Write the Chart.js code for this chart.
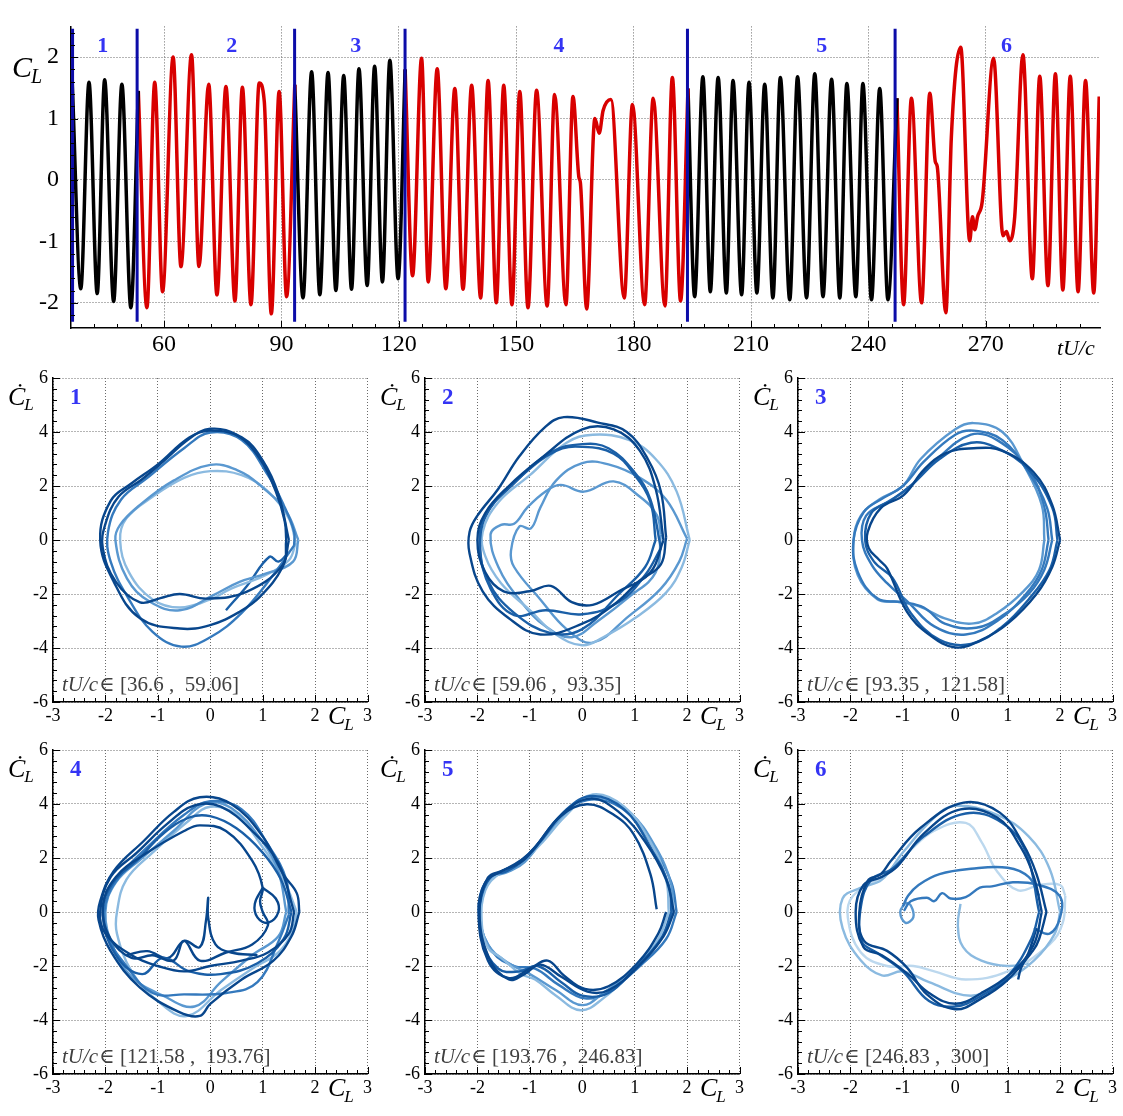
<!DOCTYPE html>
<html lang="en">
<head>
<meta charset="UTF-8">
<title>C_L time history and phase portraits</title>
<script src="https://cdn.jsdelivr.net/npm/chart.js@4/dist/chart.umd.min.js"></script>
<style>
body{margin:0;background:#fff;width:1123px;height:1116px;position:relative;overflow:hidden}
canvas{position:absolute}
</style>
</head>
<body>
<canvas id="top" width="1123" height="360" style="left:0;top:0"></canvas>
<canvas id="p1" width="375" height="384" style="left:0;top:358px"></canvas>
<canvas id="p2" width="375" height="384" style="left:372px;top:358px"></canvas>
<canvas id="p3" width="375" height="384" style="left:745px;top:358px"></canvas>
<canvas id="p4" width="375" height="384" style="left:0;top:730px"></canvas>
<canvas id="p5" width="375" height="384" style="left:372px;top:730px"></canvas>
<canvas id="p6" width="375" height="384" style="left:745px;top:730px"></canvas>
<script>
// ---- top panel: lift coefficient history (extremes) ----
const tu = [36.5, 38.7, 40.8, 42.9, 44.8, 47.1, 49.2, 51.5, 53.4, 55.6,
  57.6, 59.6, 62.3, 64.3, 67.0, 68.9, 71.4, 73.5, 75.8, 78.1,
  80.0, 82.2, 84.3, 85.6, 87.4, 89.4, 91.3, 93.4, 95.5, 97.7,
  99.8, 101.9, 103.9, 105.9, 107.9, 109.8, 111.9, 113.8, 115.8, 117.7,
  119.8, 121.6, 123.5, 125.8, 127.5, 129.8, 132.0, 134.3, 136.4, 138.6,
  140.9, 142.8, 144.9, 146.8, 148.9, 150.9, 153.0, 155.2, 157.9, 159.8,
  162.7, 164.5, 166.0, 166.4, 168.0, 170.1, 171.2, 172.2, 174.2, 177.6,
  179.7, 182.8, 185.0, 188.0, 189.9, 192.0, 193.9, 195.6, 197.7, 199.6,
  201.6, 203.7, 205.4, 207.6, 209.5, 211.5, 213.5, 215.6, 217.5, 219.9,
  221.9, 224.2, 226.3, 228.4, 230.6, 232.7, 234.5, 236.8, 238.6, 240.8,
  242.9, 245.0, 247.3, 249.0, 251.0, 253.6, 255.7, 257.1, 257.6, 259.8,
  261.2, 263.6, 265.9, 266.6, 267.2, 267.9, 269.1, 272.0, 274.4, 275.3,
  276.1, 277.4, 279.5, 281.9, 283.8, 285.9, 287.8, 289.7, 291.6, 293.6,
  295.5, 297.6, 299.0];
const cl = [1.62, -1.77, 1.59, -1.85, 1.63, -1.98, 1.56, -2.08, 1.45, -2.08,
  1.59, -1.82, 2.0, -1.41, 2.04, -1.41, 1.56, -1.87, 1.52, -1.97,
  1.51, -2.03, 1.58, 1.28, -2.18, 1.44, -1.90, 1.55, -1.92, 1.76,
  -1.87, 1.75, -1.80, 1.70, -1.78, 1.81, -1.72, 1.85, -1.66, 1.95,
  -1.61, 1.80, -1.56, 1.98, -1.66, 1.81, -1.77, 1.49, -1.78, 1.54,
  -1.92, 1.62, -2.0, 1.54, -2.03, 1.44, -2.08, 1.46, -2.05, 1.39,
  -2.03, 1.36, 0.05, -0.05, -2.10, 1.0, 0.76, 1.13, 1.31, -1.92,
  1.23, -2.03, 1.33, -2.05, 1.67, -1.97, 1.49, -1.90, 1.68, -1.82,
  1.67, -1.84, 1.62, -1.87, 1.59, -1.84, 1.56, -1.92, 1.67, -1.95,
  1.68, -1.92, 1.73, -1.90, 1.64, -1.92, 1.57, -1.90, 1.57, -1.95,
  1.49, -1.95, 1.33, -2.03, 1.33, -2.0, 1.41, 0.30, 0.22, -2.16,
  0.69, 2.16, -0.99, -0.6, -0.81, -0.6, -0.35, 1.98, -0.91, -0.84,
  -0.99, -0.6, 2.04, -1.61, 1.69, -1.72, 1.73, -1.79, 1.69, -1.82,
  1.62, -1.84, 1.36];
const tTicks = [60, 90, 120, 150, 180, 210, 240, 270];
const clTicks = [-2, -1, 0, 1, 2];
const lineT = [36.6, 53.1, 93.35, 121.58, 193.76, 246.83];
const winNames = ['1', '2', '3', '4', '5', '6'];
const winLabelT = [44.3, 77.3, 109.0, 160.9, 228.1, 275.3];
const winBounds = ['36.6', '59.06', '93.35', '121.58', '193.76', '246.83', '300'];

// ---- phase portraits: loops of [C_L, dC_L/dt] ----
const phX = [-3, -2, -1, 0, 1, 2, 3];
const phY = [-6, -4, -2, 0, 2, 4, 6];

const p1Loops = [
  [[1.45,0],[1.38,-0.93],[0.69,-1.92],[-0.07,-2.17],[-0.58,-2.0],[-0.95,-2.15],[-1.34,-2.31],[-1.8,-1.55],[-2.05,-0.3],[-2.0,0.6],[-1.75,1.6],[-1.3,2.25],[-0.9,2.9],[-0.4,3.75],[0,4.12],[0.5,3.9],[0.95,3.0],[1.25,1.8],[1.42,0.7],[1.45,0]],
  [[1.5,0],[1.38,-1.0],[0.95,-2.1],[0.56,-2.66],[0,-3.15],[-0.58,-3.28],[-1.34,-2.9],[-1.84,-1.55],[-2.1,0],[-1.9,1.45],[-1.5,2.1],[-1.0,2.8],[-0.4,3.8],[0,4.05],[0.6,3.8],[1.0,2.95],[1.3,1.7],[1.5,0]],
  [[1.6,-0.2],[1.2,-1.3],[0.6,-2.7],[0,-3.6],[-0.55,-3.95],[-1.1,-3.4],[-1.55,-2.2],[-1.9,-0.8],[-1.95,0.3],[-1.7,1.5],[-1.2,2.3],[-0.5,3.4],[0,3.98],[0.6,3.7],[1.1,2.4],[1.4,1.3],[1.6,0.3],[1.6,-0.2]],
  [[1.68,0],[1.58,-0.8],[1.07,-1.24],[0.56,-1.55],[0.06,-2.04],[-0.58,-2.6],[-1.15,-2.29],[-1.59,-1.42],[-1.81,0],[-1.72,0.56],[-1.34,1.3],[-0.7,2.2],[0,2.78],[0.5,2.6],[0.94,2.04],[1.45,1.05],[1.68,0]],
  [[1.63,-0.1],[1.5,-0.75],[1.0,-1.35],[0.4,-1.8],[0,-2.2],[-0.58,-2.5],[-1.1,-2.2],[-1.55,-1.2],[-1.72,0],[-1.6,0.8],[-1.1,1.6],[-0.5,2.3],[0,2.55],[0.6,2.4],[1.1,1.8],[1.5,0.8],[1.63,-0.1]],
  [[0.3,-2.6],[0.7,-1.7],[1.13,-0.62],[1.3,-0.8],[1.5,-0.45]]
];
const p1Shade = [0, 0, 2, 3, 4, 1];

const p2Loops = [
  [[1.6,0.1],[1.5,-0.9],[1.1,-1.5],[0.6,-2.4],[0,-3.1],[-0.8,-3.5],[-1.4,-2.9],[-1.9,-1.9],[-2.15,-0.5],[-2.15,0.3],[-2.0,0.9],[-1.6,1.9],[-1.2,3.1],[-0.7,4.2],[-0.35,4.55],[0.3,4.35],[0.85,4.0],[1.25,3.0],[1.5,1.8],[1.6,0.1]],
  [[1.55,0],[1.3,-1.2],[0.7,-1.9],[0.2,-2.4],[-0.2,-2.3],[-0.6,-1.7],[-1.0,-1.9],[-1.5,-1.9],[-1.85,-1.2],[-2.0,0],[-1.85,1.0],[-1.4,2.0],[-0.8,3.0],[0,4.1],[0.6,4.1],[1.1,3.3],[1.4,1.9],[1.55,0]],
  [[1.5,-0.3],[1.2,-1.3],[0.7,-2.3],[0,-2.75],[-0.7,-2.6],[-1.3,-2.78],[-1.75,-1.8],[-1.95,-0.3],[-1.85,0.9],[-1.3,2.1],[-0.6,3.25],[0,3.55],[0.5,3.4],[1.0,2.5],[1.3,1.5],[1.5,-0.3]],
  [[1.4,0],[1.2,-1.0],[0.7,-2.0],[0,-3.3],[-0.6,-3.45],[-1.3,-2.7],[-1.8,-1.5],[-1.95,0],[-1.75,1.2],[-1.2,2.3],[-0.5,3.3],[0,3.45],[0.6,3.2],[1.0,2.4],[1.3,1.4],[1.4,0]],
  [[2.05,0],[1.9,-1.0],[1.6,-1.95],[1.0,-2.9],[0.4,-3.6],[0,-3.9],[-0.5,-3.5],[-1.0,-2.6],[-1.55,-1.6],[-1.85,-0.6],[-1.9,0.3],[-1.6,1.4],[-1.0,2.4],[-0.3,3.6],[0.2,3.9],[0.9,3.7],[1.4,3.0],[1.8,1.8],[2.05,0]],
  [[2.0,0.05],[1.85,-0.8],[1.5,-1.8],[0.9,-2.8],[0.2,-3.8],[-0.3,-3.3],[-0.8,-2.2],[-1.3,-1.0],[-1.36,-0.4],[-1.2,0.5],[-0.98,0.43],[-0.8,1.2],[-0.5,2.2],[0,2.85],[0.5,2.8],[1.1,2.3],[1.6,1.5],[2.0,0.05]],
  [[1.5,0.2],[1.4,-1.2],[0.9,-2.1],[0.3,-3.0],[-0.2,-3.6],[-0.7,-3.2],[-1.2,-2.2],[-1.6,-1.0],[-1.75,0.2],[-1.55,0.56],[-1.3,0.6],[-1.05,1.2],[-0.7,1.8],[-0.41,2.04],[0.03,1.79],[0.6,2.17],[1.1,1.6],[1.42,0.93],[1.5,0.2]]
];
const p2Shade = [0, 0, 1, 1, 4, 3, 3];

const p3Loops = [
  [[2.0,0],[1.85,-1.0],[1.55,-2.0],[1.0,-3.1],[0.5,-3.7],[0,-3.98],[-0.5,-3.5],[-0.92,-2.66],[-1.3,-1.05],[-1.45,-0.74],[-1.65,-0.3],[-1.67,0.3],[-1.42,1.18],[-0.98,1.67],[-0.6,2.6],[-0.2,3.2],[0.35,3.4],[0.9,3.3],[1.5,2.5],[1.85,1.3],[2.0,0]],
  [[1.95,0],[1.8,-1.1],[1.4,-2.2],[0.9,-3.2],[0.3,-3.85],[-0.3,-3.7],[-0.85,-2.7],[-1.2,-1.4],[-1.55,-0.8],[-1.72,0],[-1.6,1.0],[-1.2,1.5],[-0.8,2.1],[-0.3,3.0],[0.3,3.6],[0.8,3.4],[1.4,2.6],[1.85,1.2],[1.95,0]],
  [[1.85,0],[1.7,-1.1],[1.4,-2.0],[0.9,-2.8],[0.4,-3.25],[-0.2,-3.1],[-0.6,-2.5],[-1.0,-2.3],[-1.48,-2.17],[-1.86,-1.18],[-1.94,0],[-1.74,1.05],[-1.42,1.5],[-1.0,2.0],[-0.6,2.9],[0,3.9],[0.35,4.05],[0.9,3.7],[1.4,2.5],[1.75,1.2],[1.85,0]],
  [[1.7,0],[1.6,-1.1],[1.3,-1.9],[0.8,-2.7],[0.35,-3.09],[-0.2,-2.9],[-0.7,-2.45],[-1.1,-2.29],[-1.48,-2.2],[-1.86,-1.3],[-1.94,0],[-1.8,0.9],[-1.45,1.5],[-1.0,2.0],[-0.66,3.0],[0,4.1],[0.35,4.33],[0.9,4.0],[1.3,2.8],[1.65,1.3],[1.7,0]],
  [[1.78,0],[1.65,-1.1],[1.35,-2.0],[0.8,-3.0],[0.2,-3.5],[-0.4,-3.2],[-0.9,-2.3],[-1.3,-1.6],[-1.6,-0.9],[-1.78,0],[-1.7,0.9],[-1.3,1.4],[-0.9,1.9],[-0.4,2.9],[0.3,3.9],[0.8,3.7],[1.4,2.6],[1.7,1.2],[1.78,0]]
];
const p3Shade = [0, 1, 2, 3, 2];

const p4Loops = [
  [[1.7,0],[1.55,-0.9],[1.2,-1.81],[0.6,-2.5],[0,-3.4],[-0.2,-3.85],[-0.6,-3.7],[-1.34,-2.8],[-1.9,-1.45],[-2.13,-0.3],[-2.1,0.4],[-1.84,1.52],[-1.27,2.63],[-0.7,3.7],[-0.2,4.25],[0.4,4.0],[1.0,2.8],[1.39,1.4],[1.65,0.7],[1.7,0]],
  [[1.0,0],[1.1,-0.5],[0.8,-1.2],[0.3,-1.5],[-0.2,-1.8],[-0.5,-1.07],[-0.7,-1.8],[-1.1,-1.6],[-1.5,-1.7],[-1.9,-1.0],[-2.05,0.2],[-1.8,1.3],[-1.2,2.2],[-0.5,3.0],[-0.2,3.21],[0.3,3.0],[0.8,1.9],[1.0,0.9],[0.95,0.4],[1.0,0]],
  [[1.6,0],[1.5,-0.8],[1.1,-1.5],[0.6,-1.8],[0,-2.0],[-0.5,-2.2],[-1.0,-2.0],[-1.5,-1.6],[-2.0,-0.8],[-2.1,0],[-1.9,1.3],[-1.4,2.2],[-0.8,3.3],[-0.3,3.95],[0.2,3.9],[0.8,3.0],[1.3,1.8],[1.6,0]],
  [[1.55,0],[1.4,-1.0],[0.9,-1.9],[0.2,-2.3],[-0.4,-2.2],[-0.9,-1.7],[-1.3,-2.3],[-1.8,-1.6],[-2.05,0],[-1.85,1.1],[-1.4,1.9],[-0.9,2.9],[-0.4,3.5],[0,3.55],[0.5,3.1],[1.0,2.2],[1.35,1.2],[1.55,0]],
  [[0.9,-1.6],[0.4,-1.5],[0.1,-1.2],[-0.04,-0.2],[-0.04,0.53],[-0.08,-0.3],[-0.2,-1.3],[-0.5,-1.07],[-0.8,-1.7],[-1.2,-1.45],[-1.6,-1.6]],
  [[1.0,0.9],[1.25,0.5],[1.3,0],[1.1,-0.4],[0.9,-0.2],[0.85,0.3],[1.0,0.9]],
  [[1.5,-0.1],[1.3,-1.1],[0.9,-2.6],[0.3,-3.0],[-0.5,-3.05],[-1.1,-3.0],[-1.6,-2.0],[-1.95,-0.9],[-2.0,0.3],[-1.7,1.4],[-1.2,2.4],[-0.5,3.6],[0,4.1],[0.6,3.8],[1.1,2.5],[1.45,1.2],[1.5,-0.1]],
  [[1.45,0],[1.3,-0.9],[0.8,-1.6],[0.2,-2.6],[-0.3,-3.5],[-0.9,-3.1],[-1.5,-2.4],[-1.85,-1.3],[-2.0,0],[-1.8,1.1],[-1.3,2.0],[-0.7,3.0],[-0.1,4.0],[0.4,3.85],[1.0,2.6],[1.3,1.5],[1.45,0]],
  [[1.65,0],[1.55,-0.8],[1.3,-1.5],[0.8,-2.1],[0.2,-2.9],[-0.45,-3.85],[-1.0,-3.3],[-1.5,-2.2],[-1.78,-0.8],[-1.78,0],[-1.6,1.2],[-1.1,2.2],[-0.4,3.4],[0,3.9],[0.5,3.6],[1.0,2.4],[1.4,1.2],[1.65,0]]
];
const p4Shade = [0, 0, 0, 1, 0, 0, 2, 3, 4];

const p5Loops = [
  [[1.6,0],[1.45,-0.8],[1.05,-1.9],[0.5,-2.75],[0.05,-2.85],[-0.35,-2.35],[-0.66,-1.8],[-1.0,-2.1],[-1.4,-2.45],[-1.8,-1.8],[-1.98,0],[-1.85,1.1],[-1.55,1.5],[-1.17,1.85],[-0.9,2.4],[-0.41,3.55],[0.09,3.99],[0.6,3.6],[0.98,2.88],[1.3,1.4],[1.42,0.1]],
  [[1.75,0],[1.55,-0.9],[1.1,-1.95],[0.5,-2.9],[0.1,-2.95],[-0.4,-2.4],[-0.8,-1.95],[-1.1,-2.3],[-1.4,-2.5],[-1.78,-1.7],[-1.96,0],[-1.8,1.27],[-1.5,1.55],[-1.15,1.95],[-0.9,2.4],[-0.4,3.6],[0.16,4.2],[0.7,3.7],[1.2,2.6],[1.6,1.2],[1.75,0]],
  [[1.7,0],[1.5,-1.0],[1.0,-2.1],[0.5,-3.0],[0,-3.1],[-0.4,-2.6],[-0.85,-2.0],[-1.2,-2.2],[-1.6,-2.1],[-1.9,-1.1],[-1.95,0.3],[-1.75,1.3],[-1.45,1.5],[-1.1,1.95],[-0.8,2.6],[-0.3,3.8],[0.2,4.3],[0.8,3.8],[1.3,2.4],[1.65,1.0],[1.7,0]],
  [[1.65,0],[1.45,-1.0],[0.95,-2.2],[0.4,-3.2],[-0.03,-3.64],[-0.5,-3.1],[-0.9,-2.5],[-1.17,-2.3],[-1.55,-1.69],[-1.8,-1.32],[-1.92,-0.3],[-1.85,0.8],[-1.6,1.4],[-1.2,1.8],[-0.8,2.5],[-0.3,3.6],[0.2,4.35],[0.8,3.9],[1.3,2.6],[1.6,1.2],[1.65,0]],
  [[1.72,0],[1.5,-1.0],[1.0,-2.1],[0.4,-3.0],[0,-3.45],[-0.5,-2.9],[-1.0,-2.3],[-1.4,-1.9],[-1.8,-1.2],[-1.95,0],[-1.75,1.2],[-1.4,1.5],[-1.1,1.85],[-0.7,2.8],[-0.2,3.9],[0.3,4.25],[0.9,3.7],[1.4,2.4],[1.7,1.0],[1.72,0]],
  [[1.8,0],[1.6,-1.0],[1.1,-2.0],[0.5,-2.95],[0.05,-3.2],[-0.45,-2.7],[-0.9,-2.1],[-1.3,-2.0],[-1.7,-1.5],[-1.95,-0.3],[-1.9,0.9],[-1.6,1.45],[-1.25,1.75],[-0.95,2.3],[-0.4,3.5],[0.1,4.15],[0.75,3.85],[1.3,2.6],[1.7,1.1],[1.8,0]]
];
const p5Shade = [0, 0, 1, 4, 3, 2];

const p6Loops = [
  [[1.74,0],[1.6,-1.0],[1.48,-1.44],[0.98,-2.55],[0.5,-3.2],[0,-3.6],[-0.54,-3.05],[-0.92,-2.06],[-1.3,-1.44],[-1.74,-1.07],[-1.83,0],[-1.67,1.15],[-1.42,1.4],[-1.23,1.89],[-0.66,3.12],[0.16,4.05],[0.85,3.68],[1.3,2.5],[1.55,1.4],[1.74,0]],
  [[1.65,0],[1.5,-1.2],[1.1,-2.2],[0.5,-3.0],[0,-3.4],[-0.5,-3.0],[-0.9,-2.3],[-1.4,-1.6],[-1.75,-1.3],[-1.9,0],[-1.75,1.0],[-1.4,1.3],[-1.1,1.7],[-0.6,2.9],[0.1,3.8],[0.8,3.5],[1.25,2.4],[1.5,1.3],[1.65,0]],
  [[1.6,0],[1.45,-1.0],[1.0,-2.4],[0.5,-3.1],[0,-3.5],[-0.5,-3.3],[-1.0,-2.2],[-1.5,-1.5],[-1.78,-1.1],[-1.8,0.2],[-1.6,1.2],[-1.2,1.6],[-0.6,2.8],[0.2,3.65],[0.9,3.3],[1.35,2.2],[1.6,0]],
  [[1.55,-0.6],[1.4,-1.5],[1.25,-2.1],[1.2,-2.5]],
  [[-0.98,0.04],[-0.85,0.4],[-0.54,0.53],[-0.4,0.4],[-0.25,0.7],[-0.09,0.5],[0.2,0.55],[0.47,0.9],[0.7,0.95],[1.1,1.1],[1.55,1.02],[1.99,0.6],[2.0,-0.2],[1.8,-0.8],[1.5,-0.6]],
  [[-1.0,0.2],[-0.9,0.6],[-0.7,1.0],[-0.3,1.4],[0.3,1.6],[1.0,1.64],[1.4,1.3],[1.6,0.6]],
  [[2.0,0],[1.9,-0.8],[1.5,-1.8],[0.9,-2.6],[0.3,-3.1],[-0.5,-2.6],[-1.0,-2.2],[-1.4,-2.35],[-1.8,-1.8],[-2.15,-0.6],[-2.15,0.5],[-1.8,0.9],[-1.4,1.2],[-1.0,2.2],[-0.4,3.5],[0,3.93],[0.8,3.6],[1.4,2.8],[1.8,1.6],[2.0,0]],
  [[2.1,0.6],[2.05,-0.4],[1.8,-1.2],[1.0,-2.2],[0.2,-2.5],[-0.4,-2.2],[-0.8,-2.0],[-1.3,-2.0],[-1.8,-1.5],[-2.05,-0.2],[-1.95,0.6],[-1.4,1.3],[-0.9,2.2],[-0.41,3.0],[0.2,3.3],[0.5,2.6],[0.8,1.5],[1.2,0.8],[1.6,1.0],[2.0,1.0],[2.1,0.6]],
  [[-0.95,0.35],[-1.05,0],[-0.95,-0.4],[-0.8,-0.2],[-0.85,0.25],[-0.95,0.35]],
  [[0.1,0.3],[0.05,-0.5],[0.15,-1.3],[0.5,-1.8],[1.0,-2.0],[1.4,-1.9]]
];
const p6Shade = [0, 0, 1, 0, 2, 2, 4, 5, 3, 4];

// ---- styling ----
const SERIF = 'Liberation Serif, DejaVu Serif, serif';
const BLUES = ['#08468c', '#1a5fa7', '#3479bd', '#5a98d0', '#8bbae0', '#bcd8ee'];
const SEG_COLORS = ['#000000', '#d80000'];
Chart.defaults.font.family = SERIF;
Chart.defaults.color = '#000';

function inTicks(ctx, xs, ys, a, xMaj, xStep, yMaj, yStep) {
  ctx.save();
  ctx.strokeStyle = '#000';
  ctx.lineWidth = 1;
  ctx.beginPath();
  for (let v = Math.ceil(xs.min / xStep - 1e-6) * xStep; v <= xs.max + 1e-6; v += xStep) {
    const px = Math.round(xs.getPixelForValue(v)) + 0.5;
    const len = xMaj.some(m => Math.abs(m - v) < 1e-6) ? 7 : 4;
    ctx.moveTo(px, a.bottom);
    ctx.lineTo(px, a.bottom - len);
  }
  for (let v = Math.ceil(ys.min / yStep - 1e-6) * yStep; v <= ys.max + 1e-6; v += yStep) {
    const py = Math.round(ys.getPixelForValue(v)) + 0.5;
    const len = yMaj.some(m => Math.abs(m - v) < 1e-6) ? 7 : 4;
    ctx.moveTo(a.left, py);
    ctx.lineTo(a.left + len, py);
  }
  ctx.stroke();
  ctx.restore();
}

function subLabel(ctx, x, y, main, sub, size, subSize, drop) {
  ctx.font = 'italic ' + size + 'px ' + SERIF;
  ctx.fillText(main, x, y);
  const w = ctx.measureText(main).width;
  ctx.font = 'italic ' + subSize + 'px ' + SERIF;
  ctx.fillText(sub, x + w - 1, y + drop);
}

// ---- top chart ----
function nearestIdx(t) {
  let best = 0;
  tu.forEach((v, i) => { if (Math.abs(v - t) < Math.abs(tu[best] - t)) best = i; });
  return best;
}
const cuts = [0].concat(lineT.slice(1).map(nearestIdx), [tu.length - 1]);
const topSets = [];
for (let s = 0; s < cuts.length - 1; s++) {
  const pts = [];
  for (let i = cuts[s]; i <= cuts[s + 1]; i++) pts.push({x: tu[i], y: cl[i]});
  topSets.push({
    data: pts, borderColor: SEG_COLORS[s % 2], borderWidth: 3.5, pointRadius: 0,
    cubicInterpolationMode: 'monotone', fill: false
  });
}

const topDeco = {
  id: 'topDeco',
  afterDatasetsDraw(chart) {
    const {ctx, chartArea: a} = chart;
    const x = chart.scales.x, y = chart.scales.y;
    ctx.save();
    ctx.strokeStyle = '#0c0ca8';
    ctx.lineWidth = 3;
    lineT.forEach(t => {
      const px = x.getPixelForValue(t);
      ctx.beginPath();
      ctx.moveTo(px, y.getPixelForValue(2.46));
      ctx.lineTo(px, y.getPixelForValue(-2.31));
      ctx.stroke();
    });
    ctx.fillStyle = '#3434f4';
    ctx.font = 'bold 22px ' + SERIF;
    ctx.textAlign = 'center';
    ctx.textBaseline = 'middle';
    winNames.forEach((n, i) => ctx.fillText(n, x.getPixelForValue(winLabelT[i]), y.getPixelForValue(2.17)));
    ctx.textAlign = 'left';
    ctx.textBaseline = 'alphabetic';
    ctx.fillStyle = '#000';
    subLabel(ctx, 12, 77, 'C', 'L', 30, 20, 6);
    ctx.font = 'italic 22px ' + SERIF;
    ctx.fillText('tU/c', 1057, 355);
    ctx.restore();
    inTicks(ctx, x, y, a, tTicks, 6, clTicks, 0.2);
  }
};

new Chart(document.getElementById('top'), {
  type: 'line',
  data: {datasets: topSets},
  options: {
    responsive: false, animation: false,
    layout: {padding: {left: 0, right: 23, top: 10, bottom: 0}},
    plugins: {legend: {display: false}, tooltip: {enabled: false}},
    scales: {
      x: {
        type: 'linear', min: 36.2, max: 299.2,
        afterBuildTicks: s => { s.ticks = tTicks.map(v => ({value: v})); },
        afterFit: s => { s.height = 32; },
        ticks: {font: {size: 24, family: SERIF}, color: '#000', padding: 2, maxRotation: 0, autoSkip: false},
        grid: {color: '#6a6a6a', lineWidth: 1, drawTicks: false},
        border: {color: '#000', width: 1.5, dash: [1, 2]}
      },
      y: {
        min: -2.41, max: 2.5,
        afterBuildTicks: s => { s.ticks = clTicks.map(v => ({value: v})); },
        afterFit: s => { s.width = 71; },
        ticks: {font: {size: 24, family: SERIF}, color: '#000', padding: 12},
        grid: {color: '#6a6a6a', lineWidth: 1, drawTicks: false},
        border: {color: '#000', width: 1.5, dash: [1, 2]}
      }
    }
  },
  plugins: [topDeco]
});

// ---- phase portrait panels ----
function panel(id, loops, shades, k) {
  const deco = {
    id: 'deco' + k,
    afterDatasetsDraw(chart) {
      const {ctx, chartArea: a} = chart;
      ctx.save();
      ctx.fillStyle = '#000';
      ctx.textAlign = 'left';
      ctx.textBaseline = 'alphabetic';
      subLabel(ctx, 8, a.top + 27, '\u010A', 'L', 26, 17, 5);
      subLabel(ctx, a.left + 275, a.bottom + 22, 'C', 'L', 26, 17, 6);
      ctx.fillStyle = '#3434f4';
      ctx.font = 'bold 23px ' + SERIF;
      ctx.fillText(winNames[k], a.left + 17, a.top + 26);
      ctx.fillStyle = '#404040';
      ctx.font = 'italic 21px ' + SERIF;
      const x0 = a.left + 9, y0 = a.bottom - 11;
      ctx.fillText('tU/c', x0, y0);
      const w = ctx.measureText('tU/c').width;
      ctx.font = '21px ' + SERIF;
      ctx.fillText('\u2208 [' + winBounds[k] + ' ,  ' + winBounds[k + 1] + ']', x0 + w + 1, y0);
      ctx.restore();
      inTicks(ctx, chart.scales.x, chart.scales.y, a, phX, 0.2, phY, 0.4);
    }
  };
  new Chart(document.getElementById(id), {
    type: 'scatter',
    data: {
      datasets: loops.map((pts, i) => ({
        data: pts.map(p => ({x: p[0], y: p[1]})),
        showLine: true, borderColor: BLUES[shades[i]], borderWidth: 2.4,
        pointRadius: 0, tension: 0.4, fill: false
      }))
    },
    options: {
      responsive: false, animation: false,
      layout: {padding: {left: 0, right: 6, top: 20, bottom: 0}},
      plugins: {legend: {display: false}, tooltip: {enabled: false}},
      scales: {
        x: {
          type: 'linear', min: -3, max: 3,
          afterBuildTicks: s => { s.ticks = phX.map(v => ({value: v})); },
          afterFit: s => { s.height = 40; },
          ticks: {font: {size: 18, family: SERIF}, color: '#000', padding: 3, maxRotation: 0, autoSkip: false},
          grid: {color: '#6a6a6a', lineWidth: 1, drawTicks: false},
          border: {color: '#000', width: 1.5, dash: [1, 2]}
        },
        y: {
          type: 'linear', min: -6, max: 6,
          afterBuildTicks: s => { s.ticks = phY.map(v => ({value: v})); },
          afterFit: s => { s.width = 53; },
          ticks: {font: {size: 18, family: SERIF}, color: '#000', padding: 5},
          grid: {color: '#6a6a6a', lineWidth: 1, drawTicks: false},
          border: {color: '#000', width: 1.5, dash: [1, 2]}
        }
      }
    },
    plugins: [deco]
  });
}

panel('p1', p1Loops, p1Shade, 0);
panel('p2', p2Loops, p2Shade, 1);
panel('p3', p3Loops, p3Shade, 2);
panel('p4', p4Loops, p4Shade, 3);
panel('p5', p5Loops, p5Shade, 4);
panel('p6', p6Loops, p6Shade, 5);
</script>
</body>
</html>
